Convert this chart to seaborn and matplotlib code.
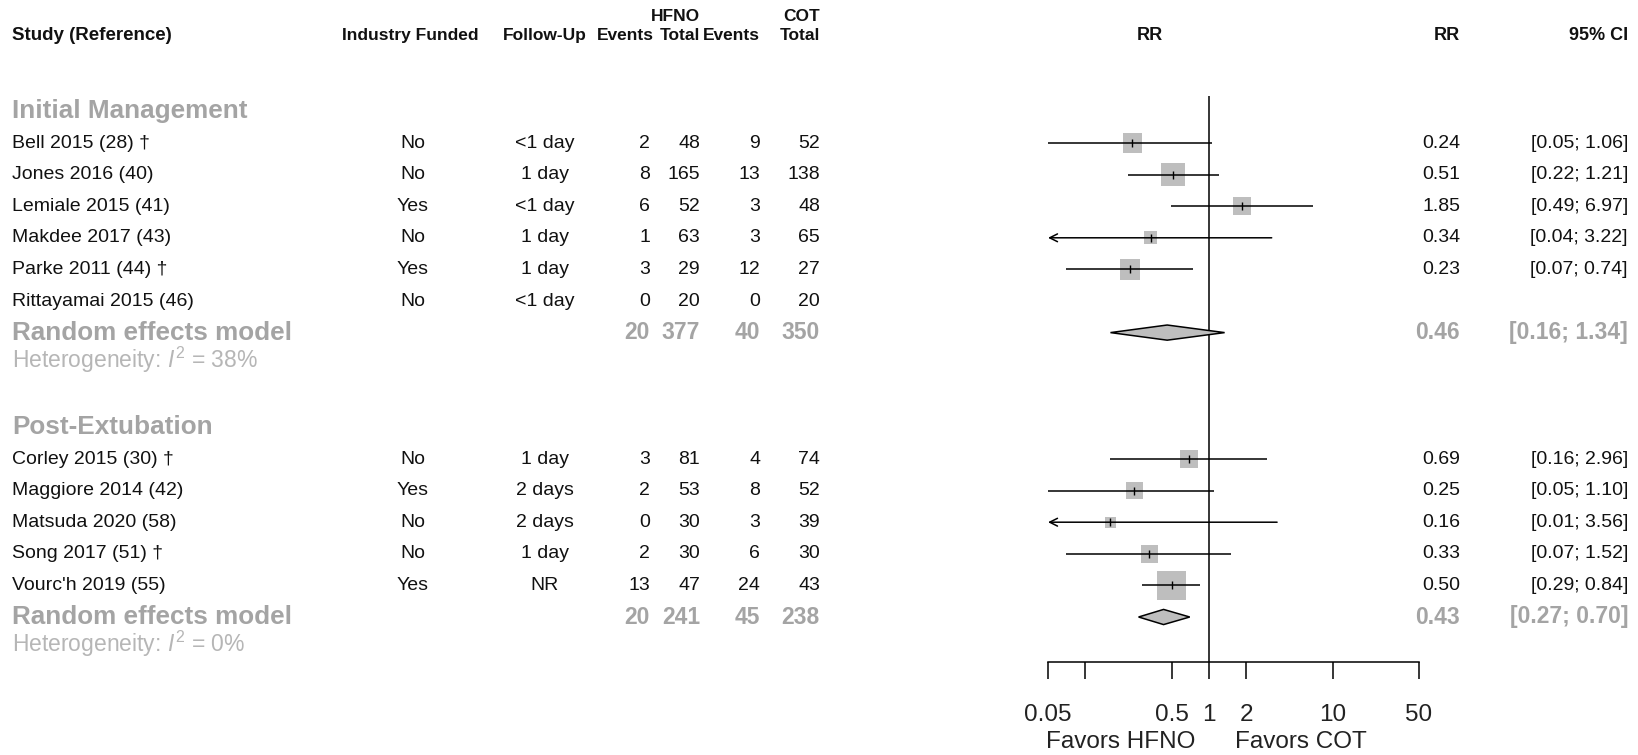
import numpy as np
import pandas as pd
import matplotlib
matplotlib.use('Agg')
import matplotlib.pyplot as plt
import matplotlib.transforms as mtransforms
from matplotlib.ticker import NullLocator
import seaborn as sns

# --- data ---
group_names = ['Initial Management', 'Post-Extubation']
study = ['Bell 2015 (28) \u2020', 'Jones 2016 (40)', 'Lemiale 2015 (41)', 'Makdee 2017 (43)',
         'Parke 2011 (44) \u2020', 'Rittayamai 2015 (46)',
         'Corley 2015 (30) \u2020', 'Maggiore 2014 (42)', 'Matsuda 2020 (58)',
         'Song 2017 (51) \u2020', "Vourc'h 2019 (55)"]
group = [0, 0, 0, 0, 0, 0, 1, 1, 1, 1, 1]
funded = ['No', 'No', 'Yes', 'No', 'Yes', 'No', 'No', 'Yes', 'No', 'No', 'Yes']
follow_up = ['<1 day', '1 day', '<1 day', '1 day', '1 day', '<1 day',
             '1 day', '2 days', '2 days', '1 day', 'NR']
ev_hfno = [2, 8, 6, 1, 3, 0, 3, 2, 0, 2, 13]
n_hfno = [48, 165, 52, 63, 29, 20, 81, 53, 30, 30, 47]
ev_cot = [9, 13, 3, 3, 12, 0, 4, 8, 3, 6, 24]
n_cot = [52, 138, 48, 65, 27, 20, 74, 52, 39, 30, 43]
rr = [0.24, 0.51, 1.85, 0.34, 0.23, np.nan, 0.69, 0.25, 0.16, 0.33, 0.50]
ci_lo = [0.05, 0.22, 0.49, 0.04, 0.07, np.nan, 0.16, 0.05, 0.01, 0.07, 0.29]
ci_hi = [1.06, 1.21, 6.97, 3.22, 0.74, np.nan, 2.96, 1.10, 3.56, 1.52, 0.84]
weight = [20.2, 30.2, 18.0, 9.0, 22.5, 0.0, 16.6, 16.6, 6.5, 16.6, 43.8]

pooled_rr = [0.46, 0.43]
pooled_lo = [0.16, 0.27]
pooled_hi = [1.34, 0.70]
i2 = [38, 0]

x_ticks = [0.05, 0.1, 0.5, 1, 2, 10, 50]
x_ticklabels = ['0.05', '', '0.5', '1', '2', '10', '50']

df = pd.DataFrame(dict(study=study, group=group, funded=funded, follow_up=follow_up,
                       ev_hfno=ev_hfno, n_hfno=n_hfno, ev_cot=ev_cot, n_cot=n_cot,
                       rr=rr, lo=ci_lo, hi=ci_hi, weight=weight))

# row layout: group label, studies, pooled, heterogeneity, blank
row_of, head_row, pool_row = [], [], []
r = -1
for g in range(len(group_names)):
    head_row.append(r)
    n = group.count(g)
    row_of += list(range(r + 1, r + 1 + n))
    pool_row.append(r + 1 + n)
    r = r + n + 4
df['row'] = row_of

# --- style ---
sns.set_theme(style='white')
plt.rcParams['font.family'] = ['Liberation Sans', 'DejaVu Sans']
plt.rcParams['mathtext.fontset'] = 'custom'
plt.rcParams['mathtext.rm'] = 'Liberation Sans'
plt.rcParams['mathtext.it'] = 'Liberation Sans:italic'

BODY = 14
GREY = '#a4a4a4'
LGREY = '#b6b6b6'
BOX = '#bebebe'
INK = '#111111'

W, H = 1638, 755
fig = plt.figure(figsize=(W / 100, H / 100), dpi=100)
ax = fig.add_axes([1048 / W, 0, (1419 - 1048) / W, 1])
ax.patch.set_alpha(0)

y0, dy = 143, 31.6           # pixel row of first study, row pitch
ax.set_xscale('log')
ax.set_xlim(0.05, 50)
ax.set_ylim((H - y0) / dy, -y0 / dy)
axis_row = (662 - y0) / dy

# reference line
ax.vlines(1, -1.5, axis_row, color='black', lw=1.1)

# study boxes (area ~ weight)
d = df.dropna(subset=['rr'])
sns.scatterplot(data=d, x='rr', y='row', size='weight', sizes=(0, 9.6 * max(weight)),
                size_norm=(0, max(weight)), marker='s', color=BOX, edgecolor='none',
                linewidth=0, legend=False, ax=ax, zorder=2)

# confidence intervals
xmin = ax.get_xlim()[0]
for _, q in d.iterrows():
    if q.lo < xmin:
        ax.annotate('', xy=(xmin, q.row), xytext=(q.hi, q.row),
                    arrowprops=dict(arrowstyle='->', color='black', lw=1.1,
                                    shrinkA=0, shrinkB=0, mutation_scale=14), zorder=3)
    else:
        ax.hlines(q.row, q.lo, q.hi, color='black', lw=1.1, zorder=3)
sns.scatterplot(data=d, x='rr', y='row', marker='|', s=40, color='black',
                linewidth=1.0, legend=False, ax=ax, zorder=4)

# pooled diamonds
for g in range(len(group_names)):
    pr = pool_row[g]
    h = 0.24
    ax.fill([pooled_lo[g], pooled_rr[g], pooled_hi[g], pooled_rr[g]],
            [pr, pr - h, pr, pr + h], facecolor=BOX, edgecolor='black', lw=1.1, zorder=3)

# axis cosmetics (after seaborn, which sets labels)
ax.set_xlabel('')
ax.set_ylabel('')
for s in ['top', 'left', 'right']:
    ax.spines[s].set_visible(False)
ax.spines['bottom'].set_position(('data', axis_row))
ax.spines['bottom'].set_color('black')
ax.spines['bottom'].set_linewidth(1.1)
ax.set_xticks(x_ticks)
ax.set_xticklabels(x_ticklabels)
ax.xaxis.set_minor_locator(NullLocator())
ax.set_yticks([])
ax.tick_params(axis='x', direction='out', length=12, width=1.1, pad=18,
               labelsize=17.5, color='black', labelcolor='#222222', bottom=True)
ax.grid(False)

# --- text columns ---
tr = mtransforms.blended_transform_factory(fig.transFigure, ax.transData)


def put(px, row, s, ha='left', color=INK, weight='normal', size=BODY):
    ax.text(px / W, row, s, transform=tr, ha=ha, va='center', color=color,
            fontweight=weight, fontsize=size, clip_on=False)


hr1, hr2 = -4.0, -3.4
put(12, hr2, 'Study (Reference)', weight='bold', size=13.5)
put(410, hr2, 'Industry Funded', ha='center', weight='bold', size=12.5)
put(545, hr2, 'Follow-Up', ha='center', weight='bold', size=12.5)
put(654, hr2, 'Events', ha='right', weight='bold', size=12.5)
put(700, hr1, 'HFNO', ha='right', weight='bold', size=12.5)
put(700, hr2, 'Total', ha='right', weight='bold', size=12.5)
put(760, hr2, 'Events', ha='right', weight='bold', size=12.5)
put(820, hr1, 'COT', ha='right', weight='bold', size=12.5)
put(820, hr2, 'Total', ha='right', weight='bold', size=12.5)
put(1150, hr2, 'RR', ha='center', weight='bold', size=13)
put(1460, hr2, 'RR', ha='right', weight='bold', size=13)
put(1628, hr2, '95% CI', ha='right', weight='bold', size=13)

for _, q in df.iterrows():
    put(12, q.row, q.study)
    put(413, q.row, q.funded, ha='center')
    put(545, q.row, q.follow_up, ha='center')
    put(650, q.row, str(q.ev_hfno), ha='right')
    put(700, q.row, str(q.n_hfno), ha='right')
    put(760, q.row, str(q.ev_cot), ha='right')
    put(820, q.row, str(q.n_cot), ha='right')
    if not np.isnan(q.rr):
        put(1460, q.row, f'{q.rr:.2f}', ha='right')
        put(1628, q.row, f'[{q.lo:.2f}; {q.hi:.2f}]', ha='right')

G = dict(color=GREY, weight='bold', size=18.8)
GN = dict(color=GREY, weight='bold', size=16.5)
for g in range(len(group_names)):
    sub = df[df.group == g]
    put(12, head_row[g], group_names[g], **G)
    pr = pool_row[g]
    put(12, pr, 'Random effects model', **G)
    put(650, pr, str(sub.ev_hfno.sum()), ha='right', **GN)
    put(700, pr, str(sub.n_hfno.sum()), ha='right', **GN)
    put(760, pr, str(sub.ev_cot.sum()), ha='right', **GN)
    put(820, pr, str(sub.n_cot.sum()), ha='right', **GN)
    put(1460, pr, f'{pooled_rr[g]:.2f}', ha='right', **GN)
    put(1628, pr, f'[{pooled_lo[g]:.2f}; {pooled_hi[g]:.2f}]', ha='right', **GN)
    put(12, pr + 0.85, f'Heterogeneity: $I^2$ = {i2[g]}%', color=LGREY, size=16.5)

fav_row = (742 - y0) / dy
put(1195, fav_row, 'Favors HFNO', ha='right', size=17.5, color='#222222')
put(1235, fav_row, 'Favors COT', ha='left', size=17.5, color='#222222')

fig.savefig('out.png', dpi=100)
